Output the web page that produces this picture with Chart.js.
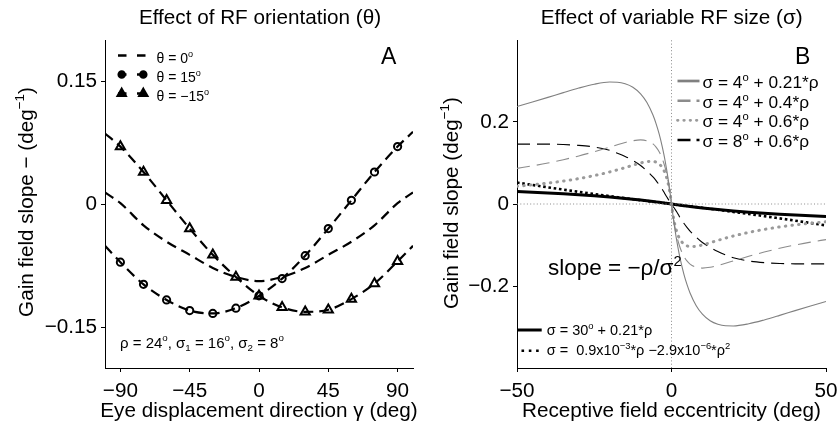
<!DOCTYPE html>
<html><head><meta charset="utf-8">
<script src="https://cdn.jsdelivr.net/npm/chart.js@4.4.1/dist/chart.umd.min.js"></script>
<style>
html,body{margin:0;padding:0;background:#fff;}
#wrap{display:flex;width:840px;height:429px;}
canvas{display:block;}
</style></head><body>
<div id="wrap"><canvas id="cA" width="420" height="429"></canvas><canvas id="cB" width="420" height="429"></canvas></div>
<script>
// ---------- Panel A data ----------
const gammaDeg      = [-100, -90, -75, -60, -45, -30, -15, 0, 15, 30, 45, 60, 75, 90, 100];
const slopeTheta0   = [0.014, 0.001, -0.026, -0.046, -0.062, -0.078, -0.089, -0.094, -0.089, -0.078, -0.062, -0.046, -0.026, 0.001, 0.014];
const slopeTheta15  = [-0.051, -0.071, -0.098, -0.117, -0.130, -0.1335, -0.127, -0.112, -0.091, -0.063, -0.030, 0.0045, 0.039, 0.070, 0.088];
const slopeThetaM15 = [0.086, 0.070, 0.039, 0.0045, -0.030, -0.062, -0.089, -0.112, -0.126, -0.1315, -0.129, -0.116, -0.097, -0.070, -0.051];
const gammaTicks    = [-90, -45, 0, 45, 90];
const slopeTicksA   = [-0.15, 0, 0.15];

// ---------- Panel B data ----------
const eccDeg = [-50, -45, -40, -35, -30, -25, -20, -17.5, -15, -12.5, -10, -8, -6, -5, -4, -3, -2.5, -2, -1.5, -1, -0.5, 0,
                0.5, 1, 1.5, 2, 2.5, 3, 4, 5, 6, 8, 10, 12.5, 15, 17.5, 20, 25, 30, 35, 40, 45, 50];
const slopeSig4_021 = [0.2378, 0.2488, 0.2601, 0.2717, 0.2828, 0.2922, 0.2974, 0.2971, 0.2934, 0.2848, 0.2687, 0.2480, 0.2169, 0.1961, 0.1708, 0.1400, 0.1221, 0.1024, 0.0806, 0.0564, 0.0297, 0,
                       -0.0297, -0.0564, -0.0806, -0.1024, -0.1221, -0.1400, -0.1708, -0.1961, -0.2169, -0.2480, -0.2687, -0.2848, -0.2934, -0.2971, -0.2974, -0.2922, -0.2828, -0.2717, -0.2601, -0.2488, -0.2378];
const slopeSig4_04  = [0.0868, 0.0930, 0.1000, 0.1080, 0.1172, 0.1276, 0.1389, 0.1446, 0.1500, 0.1543, 0.1563, 0.1543, 0.1465, 0.1389, 0.1276, 0.1109, 0.1000, 0.0868, 0.0709, 0.0517, 0.0283, 0,
                       -0.0283, -0.0517, -0.0709, -0.0868, -0.1000, -0.1109, -0.1276, -0.1389, -0.1465, -0.1543, -0.1563, -0.1543, -0.1500, -0.1446, -0.1389, -0.1276, -0.1172, -0.1080, -0.1000, -0.0930, -0.0868];
const slopeSig4_06  = [0.0433, 0.0468, 0.0510, 0.0560, 0.0620, 0.0693, 0.0781, 0.0832, 0.0888, 0.0945, 0.1000, 0.1033, 0.1039, 0.1020, 0.0977, 0.0892, 0.0826, 0.0740, 0.0625, 0.0473, 0.0270, 0,
                       -0.0270, -0.0473, -0.0625, -0.0740, -0.0826, -0.0892, -0.0977, -0.1020, -0.1039, -0.1033, -0.1000, -0.0945, -0.0888, -0.0832, -0.0781, -0.0693, -0.0620, -0.0560, -0.0510, -0.0468, -0.0433];
const slopeSig8_06  = [0.146, 0.146, 0.146, 0.145, 0.143, 0.139, 0.131, 0.124, 0.116, 0.106, 0.094, 0.081, 0.066, 0.057, 0.047, 0.036, 0.030, 0.023, 0.017, 0.011, 0.006, 0,
                       -0.006, -0.011, -0.017, -0.023, -0.030, -0.036, -0.047, -0.057, -0.066, -0.081, -0.094, -0.106, -0.116, -0.124, -0.131, -0.139, -0.143, -0.145, -0.146, -0.146, -0.146];
const slopeSig30    = [0.0305, 0.0289, 0.0271, 0.0251, 0.0228, 0.0201, 0.0171, 0.01543, 0.01365, 0.01174, 0.0097, 0.00797, 0.00614, 0.00519, 0.00421, 0.0032, 0.00268, 0.00216, 0.00163, 0.0011, 0.00055, 0,
                       -0.00055, -0.0011, -0.00163, -0.00216, -0.00268, -0.0032, -0.00421, -0.00519, -0.00614, -0.00797, -0.0097, -0.01174, -0.01365, -0.01543, -0.0171, -0.0201, -0.0228, -0.0251, -0.0271, -0.0289, -0.0305];
const slopeQuad     = [0.0523, 0.0464, 0.0406, 0.0351, 0.0296, 0.0243, 0.0192, 0.01664, 0.01415, 0.0117, 0.0093, 0.00739, 0.0055, 0.00457, 0.00365, 0.00273, 0.00227, 0.00181, 0.00136, 0.0009, 0.00045, 0,
                       -0.00045, -0.0009, -0.00136, -0.00181, -0.00227, -0.00273, -0.00365, -0.00457, -0.0055, -0.00739, -0.0093, -0.0117, -0.01415, -0.01664, -0.0192, -0.0243, -0.0296, -0.0351, -0.0406, -0.0464, -0.0523];
const eccTicks      = [-50, 0, 50];
const slopeTicksB   = [-0.2, 0, 0.2];
const zeroLineEcc   = [-50, 50];
const zeroLineSlope = [-0.4, 0.4];

// ---------- helpers ----------
const FONT = '"Liberation Sans", Arial, Helvetica, sans-serif';
Chart.defaults.font.family = FONT;
Chart.defaults.color = '#000';

function fontStr(sz){ return sz + 'px ' + FONT; }
function richWidth(ctx, segs, size){
  let w = 0;
  for (const s of segs){ ctx.font = fontStr((s.sup||s.sub) ? size*0.65 : size); w += ctx.measureText(s.t).width; }
  return w;
}
function drawRich(ctx, segs, x, y, size, align){
  const w = richWidth(ctx, segs, size);
  let cx = align === 'center' ? x - w/2 : (align === 'right' ? x - w : x);
  ctx.textAlign = 'left'; ctx.textBaseline = 'alphabetic'; ctx.fillStyle = '#000';
  for (const s of segs){
    const sz = (s.sup||s.sub) ? size*0.65 : size;
    ctx.font = fontStr(sz);
    const dy = s.sup ? -size*0.42 : (s.sub ? size*0.25 : 0);
    ctx.fillText(s.t, cx, y + dy);
    cx += ctx.measureText(s.t).width;
  }
}
const T = (t)=>({t}), SUP=(t)=>({t,sup:true}), SUB=(t)=>({t,sub:true});
const fmtTick = (v)=> v < 0 ? '\u2212' + Math.abs(v) : String(v);
const TICK_SIZE = 20.7, LABEL_SIZE = 20.7;

function makeScale(min, max, ticksArr, fitFn, pad){
  return {
    type: 'linear', min, max,
    afterBuildTicks: s => { s.ticks = ticksArr.map(v => ({value: v})); },
    afterFit: s => { fitFn(s); s.paddingLeft = 0; s.paddingRight = 0; s.paddingTop = 0; s.paddingBottom = 0; },
    ticks: { font: {family: FONT, size: TICK_SIZE}, color: '#000', padding: pad, callback: fmtTick, maxRotation: 0, autoSkip: false },
    grid: { display: true, drawOnChartArea: false, drawTicks: true, tickLength: 4, color: '#000', lineWidth: 1 },
    border: { display: true, color: '#000', width: 1 }
  };
}
const pts = (xs, ys) => xs.map((x, i) => ({x, y: ys[i]}));

// ---------- Panel A ----------
const markerRadius = (r) => (c) => (c.raw && Math.abs(c.raw.x) >= 100) ? 0 : r;
const dashA = [10, 6];

const plugA = { id: 'textA', afterDraw(chart){
  const ctx = chart.ctx; ctx.save();
  drawRich(ctx, [T('Effect of RF orientation (\u03b8)')], 260, 24, LABEL_SIZE, 'center');
  drawRich(ctx, [T('Eye displacement direction \u03b3 (deg)')], 259, 417, LABEL_SIZE, 'center');
  ctx.save(); ctx.translate(33, 202); ctx.rotate(-Math.PI/2);
  drawRich(ctx, [T('Gain field slope \u2212 (deg'), SUP('\u22121'), T(')')], 0, 0, LABEL_SIZE, 'center');
  ctx.restore();
  drawRich(ctx, [T('A')], 381, 64, 23, 'left');
  // legend
  const rows = [62.5, 81.5, 100.5];
  const labels = [[T('\u03b8 = 0'), SUP('o')], [T('\u03b8 = 15'), SUP('o')], [T('\u03b8 = \u221215'), SUP('o')]];
  ctx.strokeStyle = '#000'; ctx.fillStyle = 'rgba(0,0,0,0)';
  rows.forEach((by, i) => {
    const sy = by - 7;
    ctx.lineWidth = 2.7; ctx.setLineDash([]);
    ctx.beginPath(); ctx.moveTo(118, sy); ctx.lineTo(126.5, sy); ctx.moveTo(137, sy); ctx.lineTo(145.5, sy); ctx.stroke();
    if (i > 0){
      ctx.lineWidth = 2.1;
      const st = i === 1 ? {pointStyle:'circle', radius:3.2, rotation:0, borderWidth:2.1} : {pointStyle:'triangle', radius:4.8, rotation:0, borderWidth:2.1};
      Chart.helpers.drawPoint(ctx, st, 121.7, sy);
      Chart.helpers.drawPoint(ctx, st, 143.3, sy);
    }
    drawRich(ctx, labels[i], 156.5, by, 14, 'left');
  });
  drawRich(ctx, [T('\u03c1 = 24'), SUP('o'), T(', \u03c3'), SUB('1'), T(' = 16'), SUP('o'), T(', \u03c3'), SUB('2'), T(' = 8'), SUP('o')], 120, 347.5, 15, 'left');
  ctx.restore();
}};

new Chart(document.getElementById('cA'), {
  type: 'line',
  data: { datasets: [
    { data: pts(gammaDeg, slopeTheta0), borderColor: '#000', borderWidth: 2.2, borderDash: dashA, pointRadius: 0, cubicInterpolationMode: 'monotone' },
    { data: pts(gammaDeg, slopeTheta15), borderColor: '#000', borderWidth: 2.2, borderDash: dashA, cubicInterpolationMode: 'monotone',
      pointStyle: 'circle', pointRadius: markerRadius(3.6), pointBorderWidth: 2, pointBorderColor: '#000', pointBackgroundColor: 'rgba(0,0,0,0)' },
    { data: pts(gammaDeg, slopeThetaM15), borderColor: '#000', borderWidth: 2.2, borderDash: dashA, cubicInterpolationMode: 'monotone',
      pointStyle: 'triangle', pointRadius: markerRadius(5.3), pointBorderWidth: 2, pointBorderColor: '#000', pointBackgroundColor: 'rgba(0,0,0,0)' }
  ]},
  options: {
    responsive: false, animation: false, devicePixelRatio: 1, events: [],
    layout: { padding: { left: 0, top: 40, right: 7, bottom: 0 } },
    plugins: { legend: { display: false }, tooltip: { enabled: false } },
    scales: {
      x: makeScale(-100, 100, gammaTicks, s => { s.height = 61; }, 7),
      y: makeScale(-0.2, 0.2, slopeTicksA, s => { s.width = 105; }, 4)
    }
  },
  plugins: [plugA]
});

// ---------- Panel B ----------
const plugB = { id: 'textB', afterDraw(chart){
  const ctx = chart.ctx; ctx.save();
  drawRich(ctx, [T('Effect of variable RF size (\u03c3)')], 251.7, 24, LABEL_SIZE, 'center');
  drawRich(ctx, [T('Receptive field eccentricity (deg)')], 251.5, 417, LABEL_SIZE, 'center');
  ctx.save(); ctx.translate(37.5, 203); ctx.rotate(-Math.PI/2);
  drawRich(ctx, [T('Gain field slope (deg'), SUP('\u22121'), T(')')], 0, 0, LABEL_SIZE, 'center');
  ctx.restore();
  drawRich(ctx, [T('B')], 375, 63.5, 23, 'left');
  // top-right legend
  const L = [
    {segs:[T('\u03c3 = 4'), SUP('o'), T(' + 0.21*\u03c1')], col:'#808080', w:2.7, dash:[], cap:'butt'},
    {segs:[T('\u03c3 = 4'), SUP('o'), T(' + 0.4*\u03c1')],  col:'#8c8c8c', w:2.5, dash:[13,6], cap:'butt'},
    {segs:[T('\u03c3 = 4'), SUP('o'), T(' + 0.6*\u03c1')],  col:'#9a9a9a', w:2.8, dash:[0.5,5.8], cap:'round'},
    {segs:[T('\u03c3 = 8'), SUP('o'), T(' + 0.6*\u03c1')],  col:'#000',    w:2.5, dash:[13,6], cap:'butt'}
  ];
  const by = [88, 107.8, 127.3, 147];
  L.forEach((l, i) => {
    ctx.strokeStyle = l.col; ctx.lineWidth = l.w; ctx.setLineDash(l.dash); ctx.lineCap = l.cap;
    ctx.beginPath(); ctx.moveTo(257.5, by[i] - 7); ctx.lineTo(279.5, by[i] - 7); ctx.stroke();
    drawRich(ctx, l.segs, 282.5, by[i], 17.3, 'left');
  });
  ctx.setLineDash([]); ctx.lineCap = 'butt';
  // bottom-left legend
  ctx.strokeStyle = '#000'; ctx.lineWidth = 3;
  ctx.beginPath(); ctx.moveTo(98, 330); ctx.lineTo(121.7, 330); ctx.stroke();
  ctx.lineWidth = 2.6; ctx.setLineDash([2.6, 4.7]);
  ctx.beginPath(); ctx.moveTo(101.5, 350.7); ctx.lineTo(121.7, 350.7); ctx.stroke();
  ctx.setLineDash([]);
  drawRich(ctx, [T('\u03c3 = 30'), SUP('o'), T(' + 0.21*\u03c1')], 126.7, 335, 14.5, 'left');
  drawRich(ctx, [T('\u03c3 =  0.9x10'), SUP('\u22123'), T('*\u03c1 \u22122.9x10'), SUP('\u22126'), T('*\u03c1'), SUP('2')], 126.7, 355, 14.5, 'left');
  drawRich(ctx, [T('slope = \u2212\u03c1/\u03c3'), SUP('2')], 128, 275, 22.5, 'left');
  ctx.restore();
}};

const mono = { cubicInterpolationMode: 'monotone', pointRadius: 0 };
new Chart(document.getElementById('cB'), {
  type: 'line',
  data: { datasets: [
    { data: pts([0, 0], zeroLineSlope), borderColor: '#8a8a8a', borderWidth: 1, borderDash: [1, 2.3], pointRadius: 0 },
    { data: pts(zeroLineEcc, [0, 0]), borderColor: '#8a8a8a', borderWidth: 1, borderDash: [1, 2.3], pointRadius: 0 },
    { data: pts(eccDeg, slopeSig4_021), borderColor: '#808080', borderWidth: 1.1, ...mono },
    { data: pts(eccDeg, slopeSig4_04),  borderColor: '#8c8c8c', borderWidth: 1.1, borderDash: [13, 7], ...mono },
    { data: pts(eccDeg, slopeSig4_06),  borderColor: '#9a9a9a', borderWidth: 3, borderDash: [0.5, 6.2], borderCapStyle: 'round', ...mono },
    { data: pts(eccDeg, slopeSig8_06),  borderColor: '#000', borderWidth: 1.1, borderDash: [13, 7], ...mono },
    { data: pts(eccDeg, slopeQuad),     borderColor: '#000', borderWidth: 2.6, borderDash: [2.6, 2.7], ...mono },
    { data: pts(eccDeg, slopeSig30),    borderColor: '#000', borderWidth: 3, ...mono }
  ]},
  options: {
    responsive: false, animation: false, devicePixelRatio: 1, events: [],
    layout: { padding: { left: 0, top: 40, right: 14, bottom: 0 } },
    plugins: { legend: { display: false }, tooltip: { enabled: false } },
    scales: {
      x: makeScale(-50, 50, eccTicks, s => { s.height = 61; }, 7),
      y: makeScale(-0.4, 0.4, slopeTicksB, s => { s.width = 97; }, 4)
    }
  },
  plugins: [plugB]
});
</script>
</body></html>
